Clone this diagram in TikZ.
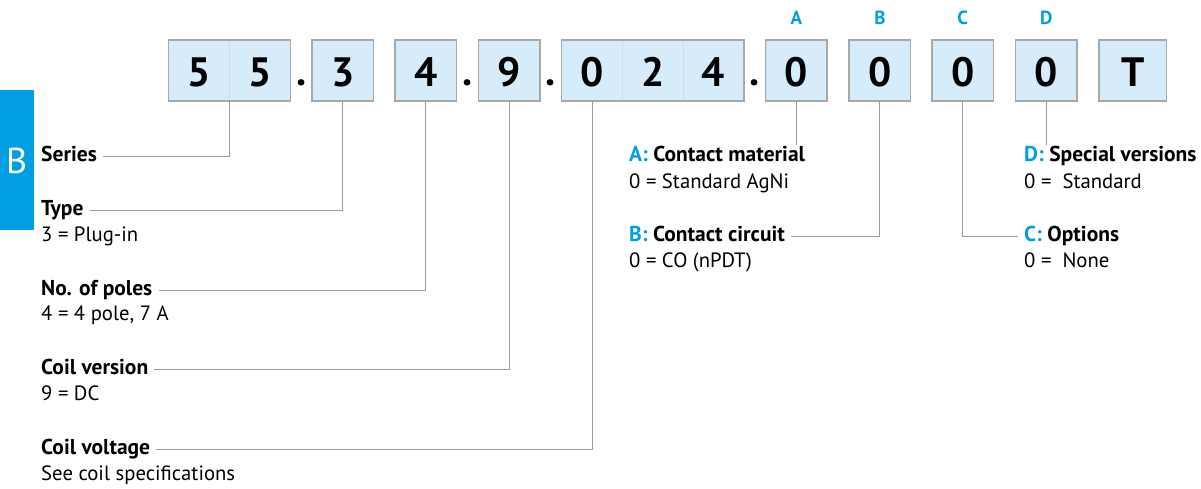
\documentclass[tikz,border=0pt]{standalone}
\usepackage{fontspec}
\setmainfont{PT Sans}
\definecolor{cyanB}{HTML}{009FE3}
\definecolor{boxfill}{HTML}{D6ECFA}
\definecolor{boxline}{HTML}{A8A8A8}
\definecolor{divline}{HTML}{CADFEC}
\definecolor{connc}{HTML}{9C9C9C}
\begin{document}
\begin{tikzpicture}[x=1pt,y=-1pt,
  cell/.style={draw=divline,fill=boxfill,line width=0.8pt,minimum width=60.7pt,minimum height=60.5pt,inner sep=0pt,
    text height=31.4pt,text depth=0pt,font=\fontsize{41}{44}\selectfont\bfseries},
  frame/.style={draw=boxline,line width=1.4pt},
  dotc/.style={inner sep=0pt,anchor=base,font=\fontsize{41}{44}\selectfont\bfseries},
  letter/.style={inner sep=0pt,anchor=base,text=cyanB,font=\fontsize{19}{21}\selectfont\bfseries},
  head/.style={inner sep=0pt,anchor=base west,text height=10pt,text depth=0pt,font=\fontsize{21.5}{24}\selectfont\bfseries},
  desc/.style={inner sep=0pt,anchor=base west,font=\fontsize{20.7}{24}\selectfont},
  conn/.style={draw=connc,line width=1pt}]
\useasboundingbox (0,0) rectangle (1201,489);
% tab
\fill[cyanB] (0,90) rectangle (34,230);
\node[inner sep=0pt,anchor=base,text=white,font=\fontsize{36}{40}\selectfont] (tabB) at (16.7,174) {B};
% cells
\node[cell] (c55a) at (199.0,70.5) {5};
\node[cell] (c55b) at (259.8,70.5) {5};
\draw[frame] (c55a.north west) rectangle (c55b.south east);
\node[dotc] (d1) at (301.2,86) {.};
\node[cell] (c3) at (342.7,70.5) {3};
\draw[frame] (c3.north west) rectangle (c3.south east);
\node[cell] (c4) at (425.8,70.5) {4};
\draw[frame] (c4.north west) rectangle (c4.south east);
\node[dotc] (d2) at (467.6,86) {.};
\node[cell] (c9) at (509.2,70.5) {9};
\draw[frame] (c9.north west) rectangle (c9.south east);
\node[dotc] (d3) at (550.6,86) {.};
\node[cell] (c024a) at (592.1,70.5) {0};
\node[cell] (c024b) at (652.8,70.5) {2};
\node[cell] (c024c) at (713.4,70.5) {4};
\draw[frame] (c024a.north west) rectangle (c024c.south east);
\node[dotc] (d4) at (755.0,86) {.};
\node[cell] (cA) at (796.4,70.5) {0};
\draw[frame] (cA.north west) rectangle (cA.south east);
\node[cell] (cB) at (879.9,70.5) {0};
\draw[frame] (cB.north west) rectangle (cB.south east);
\node[cell] (cC) at (962.7,70.5) {0};
\draw[frame] (cC.north west) rectangle (cC.south east);
\node[cell] (cD) at (1046.2,70.5) {0};
\draw[frame] (cD.north west) rectangle (cD.south east);
\node[cell,minimum width=66.7pt] (cT) at (1132.8,70.5) {T};
\draw[frame] (cT.north west) rectangle (cT.south east);
% letters
\node[letter] (lA) at (796.4,25) {A};
\node[letter] (lB) at (879.9,25) {B};
\node[letter] (lC) at (962.7,25) {C};
\node[letter] (lD) at (1046.2,25) {D};
% left texts
\node[head] (series) at (41,161.7) {Series};
\node[head] (type) at (41,215.5) {Type};
\node[desc] (typed) at (41,241.7) {3 = Plug-in};
\node[head] (poles) at (41,295) {No. of poles};
\node[desc] (polesd) at (41,320.7) {4 = 4 pole, 7 A};
\node[head] (cver) at (41,374.3) {Coil version};
\node[desc] (cverd) at (41,400.3) {9 = DC};
\node[head] (cvol) at (41,454) {Coil voltage};
\node[desc] (cvold) at (41,480) {See coil specifications};
% right texts
\node[head] (amat) at (629,161.7) {\textcolor{cyanB}{A:} Contact material};
\node[desc] (amatd) at (629,188.3) {0 = Standard AgNi};
\node[head] (bcir) at (629,241.7) {\textcolor{cyanB}{B:} Contact circuit};
\node[desc] (bcird) at (629,267.3) {0 = CO (nPDT)};
\node[head] (dspe) at (1024,161.7) {\textcolor{cyanB}{D:} Special versions};
\node[desc] (dsped) at (1024,188.3) {0 =\ \ Standard};
\node[head] (copt) at (1024,241.7) {\textcolor{cyanB}{C:} Options};
\node[desc] (coptd) at (1024,267.3) {0 =\ \ None};
% connectors
\draw[conn] (c55a.south east) |- ([xshift=6pt]series.east);
\draw[conn] (c3.south) |- ([xshift=6pt]type.east);
\draw[conn] (c4.south) |- ([xshift=6pt]poles.east);
\draw[conn] (c9.south) |- ([xshift=6pt]cver.east);
\draw[conn] (c024a.south) |- ([xshift=6pt]cvol.east);
\coordinate (aend) at (796.4,145);
\coordinate (dend) at (1046.2,145);
\draw[conn] (cA.south) -- (aend);
\draw[conn] (cD.south) -- (dend);
\draw[conn] (cB.south) |- ([xshift=6pt]bcir.east);
\draw[conn] (cC.south) |- ([xshift=-6pt]copt.west);
\end{tikzpicture}
\end{document}
